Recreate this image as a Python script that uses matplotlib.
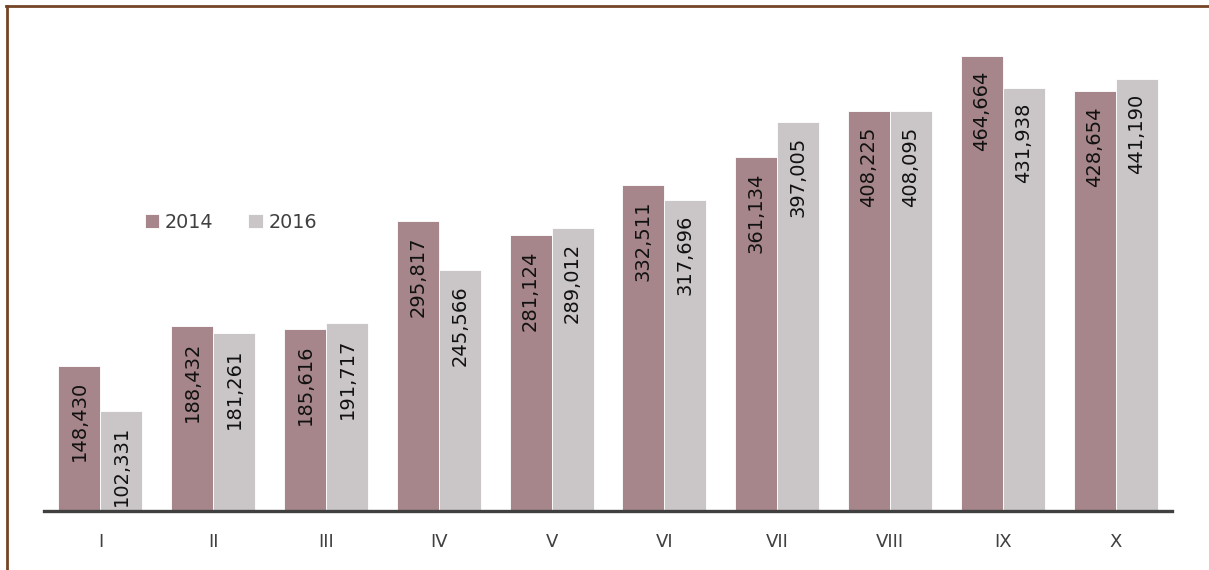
import numpy as np
import matplotlib
matplotlib.use('Agg')
import matplotlib.pyplot as plt
from matplotlib.lines import Line2D

categories = ['I', 'II', 'III', 'IV', 'V', 'VI', 'VII', 'VIII', 'IX', 'X']
values_2014 = [148430, 188432, 185616, 295817, 281124, 332511, 361134, 408225, 464664, 428654]
values_2016 = [102331, 181261, 191717, 245566, 289012, 317696, 397005, 408095, 431938, 441190]
series_labels = ['2014', '2016']

COLORS = {'2014': '#A6868A', '2016': '#CAC6C7'}
TEXT = '#404040'

plt.rcParams['font.family'] = ['DejaVu Sans']

fig = plt.figure(figsize=(12.09, 5.70), dpi=100)
ax = fig.add_axes([44 / 1209, 59 / 570, 1128 / 1209, 490 / 570])

x = np.arange(len(categories))
w = 0.372
b1 = ax.bar(x - w / 2, values_2014, width=w, color=COLORS['2014'],
            edgecolor='white', linewidth=0.6, label=series_labels[0], zorder=2)
b2 = ax.bar(x + w / 2, values_2016, width=w, color=COLORS['2016'],
            edgecolor='white', linewidth=0.6, label=series_labels[1], zorder=2)

# value labels, rotated, near the top inside each bar
for bars, vals in ((b1, values_2014), (b2, values_2016)):
    for rect, v in zip(bars, vals):
        ax.annotate(f'{v:,}', xy=(rect.get_x() + rect.get_width() / 2, rect.get_height()),
                    xytext=(0, -11), textcoords='offset points', rotation=90,
                    ha='center', va='top', fontsize=14, color='#111111', zorder=3)

ax.set_xlim(-0.5, 9.5)
ax.set_ylim(0, 500000)
ax.set_xticks(x)
ax.set_xticklabels(categories, fontsize=13, color=TEXT)
ax.tick_params(axis='x', length=0, pad=16)
ax.set_yticks([])
for s in ('top', 'right', 'left'):
    ax.spines[s].set_visible(False)
ax.spines['bottom'].set_color(TEXT)
ax.spines['bottom'].set_linewidth(2.4)
ax.spines['bottom'].set_zorder(4)

leg = ax.legend(loc='center left', bbox_to_anchor=(145 / 1209, 1 - 222 / 570),
                bbox_transform=fig.transFigure, ncol=2, frameon=False,
                fontsize=13.8, handlelength=0.75, handleheight=0.75,
                handletextpad=0.3, columnspacing=1.8, borderpad=0, borderaxespad=0)
for t in leg.get_texts():
    t.set_color(TEXT)

# brown frame (top and left edges visible)
border = '#744426'
fig.add_artist(Line2D([6 / 1209, 1], [1 - 6 / 570, 1 - 6 / 570], color=border, lw=2.0,
                      transform=fig.transFigure))
fig.add_artist(Line2D([6.5 / 1209, 6.5 / 1209], [0, 1 - 6 / 570], color=border, lw=2.0,
                      transform=fig.transFigure))

fig.savefig('out.png', dpi=100)
